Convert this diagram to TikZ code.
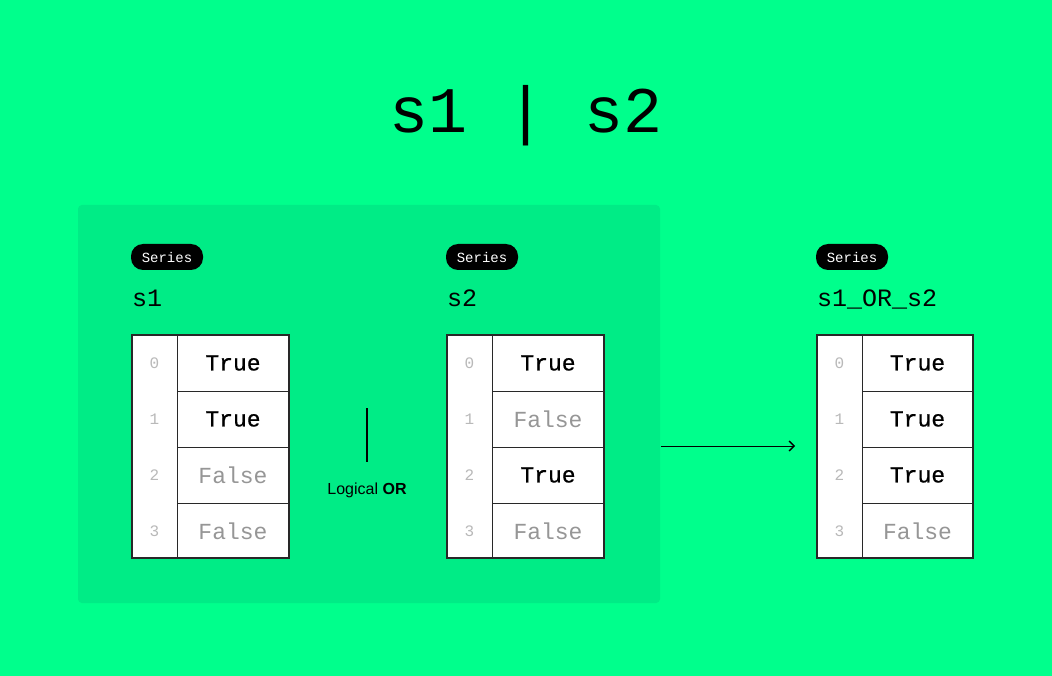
\documentclass[tikz,border=0pt]{standalone}
\usepackage{fontspec}
\setmainfont{Liberation Sans}
\newfontfamily\monofont{Liberation Mono}
\newfontface\monomed{Liberation Mono}[FakeBold=0.6]
\usetikzlibrary{arrows.meta}
\definecolor{bggreen}{RGB}{0,255,140}
\definecolor{panelgreen}{RGB}{0,236,134}
\definecolor{gridline}{RGB}{40,40,40}
\definecolor{falsegray}{RGB}{150,150,150}
\definecolor{idxgray}{RGB}{185,185,185}
\tikzset{
  x=1pt, y=-1pt,
  badge/.style={fill=black, text=white, rounded corners=12pt, minimum width=72pt, minimum height=26pt, inner sep=0pt, font=\monofont\fontsize{14}{14}\selectfont},
  slabel/.style={anchor=base west, inner sep=0pt, font=\monofont\fontsize{25}{25}\selectfont},
  cellT/.style={font=\monomed\fontsize{23}{23}\selectfont, text=black},
  cellF/.style={font=\monofont\fontsize{23}{23}\selectfont, text=falsegray},
  idx/.style={font=\monofont\fontsize{16}{16}\selectfont, text=idxgray},
  frame/.style={draw=gridline, line width=1.6pt, fill=white},
  sep/.style={draw=gridline, line width=1pt},
}
\begin{document}
\begin{tikzpicture}
\useasboundingbox (0,0) rectangle (1052,676);
\fill[bggreen] (0,0) rectangle (1052,676);
\fill[panelgreen, rounded corners=4pt] (78,205) rectangle (660,603);

% title
\node[font=\monofont\fontsize{65}{65}\selectfont, anchor=base, inner sep=0pt] (title) at (526,133) {s1 | s2};

% badges and labels
\node[badge] (b1) at (167,257) {Series};
\node[badge] (b2) at (482,257) {Series};
\node[badge] (b3) at (852,257) {Series};
\node[slabel] (l1) at (132,306) {s1};
\node[slabel] (l2) at (447,306) {s2};
\node[slabel] (l3) at (817,306) {s1\_OR\_s2};

% table s1
\path[frame] (132,335) rectangle (289,558);
\draw[sep] (177,335) -- (177,558);
\foreach \r in {1,2,3} {\draw[sep] (177,335+\r*56) -- (289,335+\r*56);}
\foreach \r in {0,1,2,3} {\node[idx] (ai\r) at (154.5,363+\r*56) {\r};}
\node[cellT] (av0) at (233,363) {True};
\node[cellT] (av1) at (233,419) {True};
\node[cellF] (av2) at (233,475) {False};
\node[cellF] (av3) at (233,531) {False};

% table s2
\path[frame] (447,335) rectangle (604,558);
\draw[sep] (492,335) -- (492,558);
\foreach \r in {1,2,3} {\draw[sep] (492,335+\r*56) -- (604,335+\r*56);}
\foreach \r in {0,1,2,3} {\node[idx] (bi\r) at (469.5,363+\r*56) {\r};}
\node[cellT] (bv0) at (548,363) {True};
\node[cellF] (bv1) at (548,419) {False};
\node[cellT] (bv2) at (548,475) {True};
\node[cellF] (bv3) at (548,531) {False};

% table result
\path[frame] (817,335) rectangle (973,558);
\draw[sep] (862,335) -- (862,558);
\foreach \r in {1,2,3} {\draw[sep] (862,335+\r*56) -- (973,335+\r*56);}
\foreach \r in {0,1,2,3} {\node[idx] (ci\r) at (839.5,363+\r*56) {\r};}
\node[cellT] (cv0) at (917.5,363) {True};
\node[cellT] (cv1) at (917.5,419) {True};
\node[cellT] (cv2) at (917.5,475) {True};
\node[cellF] (cv3) at (917.5,531) {False};

% logical OR
\coordinate (bartop) at (367,408);
\coordinate (barbot) at (367,462);
\draw[line width=2.6pt] (bartop) -- (barbot);
\node[anchor=base, inner sep=0pt, font=\fontsize{16}{16}\selectfont] (lor) at (367,494) {Logical \textbf{OR}};

% arrow
\coordinate (astart) at (661,446);
\coordinate (aend) at (795,446);
\draw[line width=1pt, -{Straight Barb[length=5pt,width=10pt,line width=1.4pt]}] (astart) -- (aend);
\end{tikzpicture}
\end{document}
